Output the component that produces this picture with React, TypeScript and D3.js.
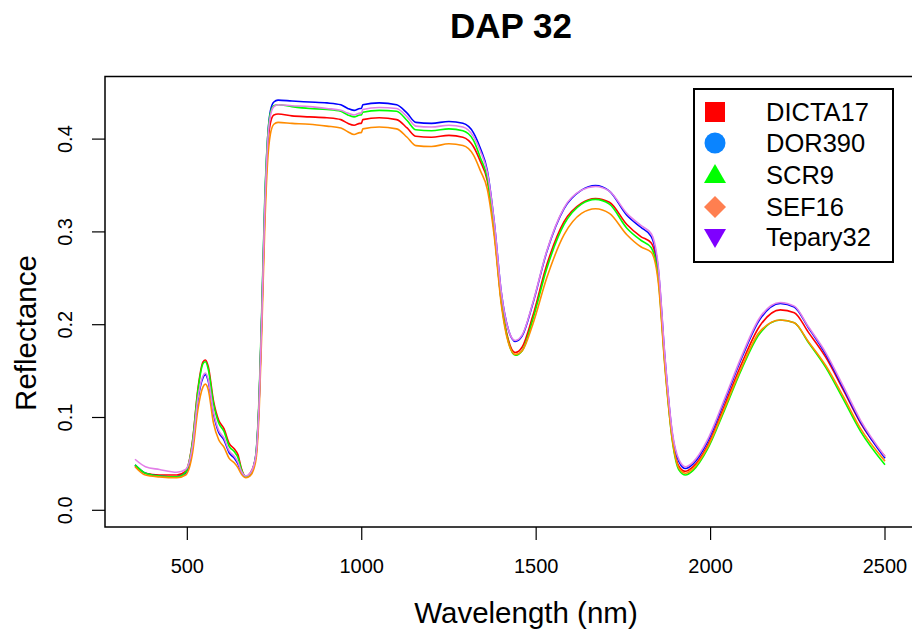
import React from "react";
import * as d3 from "d3";

const title = "DAP 32";
const xLabel = "Wavelength (nm)";
const yLabel = "Reflectance";
const xTicks = [500, 1000, 1500, 2000, 2500];
const yTicks = [0.0, 0.1, 0.2, 0.3, 0.4];
const yTickLabels = ["0.0", "0.1", "0.2", "0.3", "0.4"];

const wavelengths = [
  350, 380, 420, 470, 495, 515, 530, 545, 552, 560, 575, 590, 605, 620, 635, 645, 655, 668, 680, 690,
  698, 706, 714, 722, 730, 738, 748, 760,
  800, 850, 900, 940, 960, 978, 995, 999, 1003, 1050, 1100, 1130, 1155, 1200, 1250, 1290, 1320,
  1340, 1360, 1380, 1400, 1420, 1440, 1460, 1490, 1530, 1580, 1630, 1670, 1710, 1760, 1800, 1830, 1850,
  1870, 1890, 1910, 1928, 1950, 1990, 2040, 2090, 2140, 2200, 2240, 2280, 2330, 2380, 2430, 2500,
];

const seriesNames = ["DICTA17", "DOR390", "SCR9", "SEF16", "Tepary32"];

const dicta17 = [
  0.048, 0.040, 0.038, 0.038, 0.042, 0.075, 0.130, 0.160, 0.162, 0.155, 0.118, 0.097, 0.088, 0.072, 0.066, 0.060, 0.045, 0.036, 0.040, 0.048,
  0.063, 0.12, 0.215, 0.32, 0.39, 0.417, 0.426, 0.427,
  0.425, 0.424, 0.423, 0.421, 0.417, 0.415, 0.417, 0.417, 0.421, 0.423, 0.421, 0.412, 0.403, 0.402, 0.404, 0.402, 0.392,
  0.376, 0.355, 0.30, 0.226, 0.184, 0.170, 0.176, 0.209, 0.264, 0.311, 0.331, 0.336, 0.332, 0.308, 0.295, 0.288, 0.254,
  0.155, 0.079, 0.047, 0.042, 0.047, 0.069, 0.113, 0.159, 0.198, 0.216, 0.213, 0.192, 0.165, 0.130, 0.094, 0.058,
];
const dor390 = [
  0.049, 0.040, 0.037, 0.036, 0.040, 0.068, 0.118, 0.143, 0.146, 0.139, 0.104, 0.084, 0.076, 0.062, 0.056, 0.050, 0.041, 0.036, 0.039, 0.047,
  0.065, 0.12, 0.22, 0.33, 0.40, 0.43, 0.440, 0.442,
  0.441, 0.440, 0.439, 0.437, 0.433, 0.431, 0.433, 0.433, 0.437, 0.439, 0.437, 0.428, 0.418, 0.417, 0.419, 0.417, 0.407,
  0.390, 0.366, 0.31, 0.235, 0.195, 0.182, 0.188, 0.222, 0.278, 0.325, 0.345, 0.350, 0.344, 0.318, 0.305, 0.295, 0.260,
  0.160, 0.083, 0.052, 0.045, 0.050, 0.073, 0.118, 0.165, 0.205, 0.223, 0.219, 0.197, 0.168, 0.132, 0.095, 0.056,
];
const scr9 = [
  0.049, 0.040, 0.037, 0.036, 0.041, 0.074, 0.128, 0.158, 0.160, 0.152, 0.115, 0.094, 0.085, 0.069, 0.063, 0.057, 0.044, 0.036, 0.039, 0.047,
  0.066, 0.125, 0.225, 0.335, 0.40, 0.428, 0.436, 0.437,
  0.435, 0.433, 0.432, 0.430, 0.426, 0.424, 0.426, 0.426, 0.429, 0.431, 0.430, 0.420, 0.410, 0.409, 0.411, 0.409, 0.399,
  0.380, 0.358, 0.30, 0.225, 0.182, 0.167, 0.172, 0.205, 0.260, 0.308, 0.330, 0.335, 0.330, 0.304, 0.291, 0.283, 0.250,
  0.152, 0.076, 0.043, 0.038, 0.043, 0.065, 0.108, 0.153, 0.190, 0.205, 0.202, 0.181, 0.154, 0.120, 0.085, 0.049,
];
const sef16 = [
  0.047, 0.038, 0.036, 0.035, 0.038, 0.062, 0.108, 0.133, 0.136, 0.130, 0.094, 0.076, 0.068, 0.056, 0.051, 0.046, 0.039, 0.035, 0.037, 0.044,
  0.058, 0.108, 0.20, 0.305, 0.375, 0.405, 0.416, 0.418,
  0.417, 0.416, 0.414, 0.412, 0.408, 0.405, 0.407, 0.407, 0.411, 0.413, 0.411, 0.402, 0.393, 0.392, 0.395, 0.393, 0.383,
  0.366, 0.346, 0.295, 0.222, 0.181, 0.168, 0.172, 0.200, 0.250, 0.297, 0.320, 0.325, 0.320, 0.297, 0.284, 0.278, 0.246,
  0.150, 0.077, 0.045, 0.040, 0.045, 0.067, 0.110, 0.155, 0.192, 0.205, 0.202, 0.182, 0.156, 0.123, 0.088, 0.053,
];
const tepary32 = [
  0.055, 0.047, 0.044, 0.041, 0.044, 0.070, 0.120, 0.145, 0.148, 0.141, 0.106, 0.086, 0.078, 0.064, 0.058, 0.052, 0.042, 0.037, 0.040, 0.048,
  0.064, 0.118, 0.215, 0.325, 0.395, 0.425, 0.435, 0.437,
  0.436, 0.435, 0.433, 0.431, 0.428, 0.426, 0.428, 0.428, 0.432, 0.434, 0.433, 0.424, 0.414, 0.413, 0.415, 0.413, 0.403,
  0.387, 0.364, 0.31, 0.235, 0.195, 0.183, 0.189, 0.223, 0.279, 0.326, 0.345, 0.349, 0.344, 0.320, 0.307, 0.298, 0.263,
  0.162, 0.085, 0.054, 0.047, 0.052, 0.075, 0.120, 0.167, 0.207, 0.224, 0.220, 0.198, 0.170, 0.134, 0.097, 0.058,
];

const seriesValues = [dicta17, dor390, scr9, sef16, tepary32];
const lineColors = ["#ff0000", "#0000ff", "#00ff00", "#ff8c00", "#e27fe8"];
const legendColors = ["#ff0000", "#0a84ff", "#00ff00", "#ff7f50", "#7f00ff"];
const legendShapes = ["square", "circle", "triangle", "diamond", "triangleDown"];

const W = 912;
const H = 631;
const FONT = "'Liberation Sans', Arial, Helvetica, sans-serif";

export default function App() {
  const x = d3.scaleLinear().domain([264, 2586]).range([105, 915]);
  const y = d3.scaleLinear().domain([-0.018, 0.468]).range([527, 76]);

  const line = d3
    .line<[number, number]>()
    .x((d) => x(d[0]))
    .y((d) => y(d[1]))
    .curve(d3.curveMonotoneX);

  const legendX = 694;
  const legendY = 89;
  const legendW = 199;
  const legendH = 173;
  const rowY = [112, 143, 175, 207, 237];

  const symbol = (shape: string, cx: number, cy: number, color: string) => {
    switch (shape) {
      case "square":
        return <rect x={cx - 10} y={cy - 10} width={20} height={20} fill={color} />;
      case "circle":
        return <circle cx={cx} cy={cy} r={10.5} fill={color} />;
      case "triangle":
        return <path d={`M${cx},${cy - 11}L${cx + 11},${cy + 8}L${cx - 11},${cy + 8}Z`} fill={color} />;
      case "diamond":
        return <path d={`M${cx},${cy - 11}L${cx + 11},${cy}L${cx},${cy + 11}L${cx - 11},${cy}Z`} fill={color} />;
      default:
        return <path d={`M${cx - 11},${cy - 8}L${cx + 11},${cy - 8}L${cx},${cy + 11}Z`} fill={color} />;
    }
  };

  return (
    <div style={{ position: "absolute", left: 0, top: 0 }}>
      <svg width={W} height={H} style={{ display: "block", background: "#fff" }} fontFamily={FONT}>
        <rect x={0} y={0} width={W} height={H} fill="#fff" />
        <text x={511} y={38} textAnchor="middle" fontSize={35} fontWeight="bold">
          {title}
        </text>

        <g>
          {seriesValues.map((vals, i) => (
            <path
              key={seriesNames[i]}
              d={line(wavelengths.map((w, j) => [w, vals[j]] as [number, number])) || ""}
              fill="none"
              stroke={lineColors[i]}
              strokeWidth={1.6}
              strokeLinejoin="round"
            />
          ))}
        </g>

        <rect x={105} y={76.5} width={810} height={450.5} fill="none" stroke="#000" strokeWidth={1.5} />

        {xTicks.map((t) => (
          <g key={t}>
            <line x1={x(t)} x2={x(t)} y1={527} y2={540} stroke="#000" strokeWidth={1.2} />
            <text x={x(t)} y={573} textAnchor="middle" fontSize={20}>
              {t}
            </text>
          </g>
        ))}
        {yTicks.map((t, i) => (
          <g key={t}>
            <line x1={92} x2={105} y1={y(t)} y2={y(t)} stroke="#000" strokeWidth={1.2} />
            <text
              transform={`translate(72,${y(t)}) rotate(-90)`}
              textAnchor="middle"
              fontSize={20}
            >
              {yTickLabels[i]}
            </text>
          </g>
        ))}

        <text x={526} y={623} textAnchor="middle" fontSize={29.5}>
          {xLabel}
        </text>
        <text transform={`translate(36,333) rotate(-90)`} textAnchor="middle" fontSize={29.5}>
          {yLabel}
        </text>

        <rect x={legendX} y={legendY} width={legendW} height={legendH} fill="#fff" stroke="#000" strokeWidth={2} />
        {seriesNames.map((name, i) => (
          <g key={name}>
            {symbol(legendShapes[i], 715, rowY[i], legendColors[i])}
            <text x={766} y={rowY[i] + 9} fontSize={25.5}>
              {name}
            </text>
          </g>
        ))}
      </svg>
    </div>
  );
}
